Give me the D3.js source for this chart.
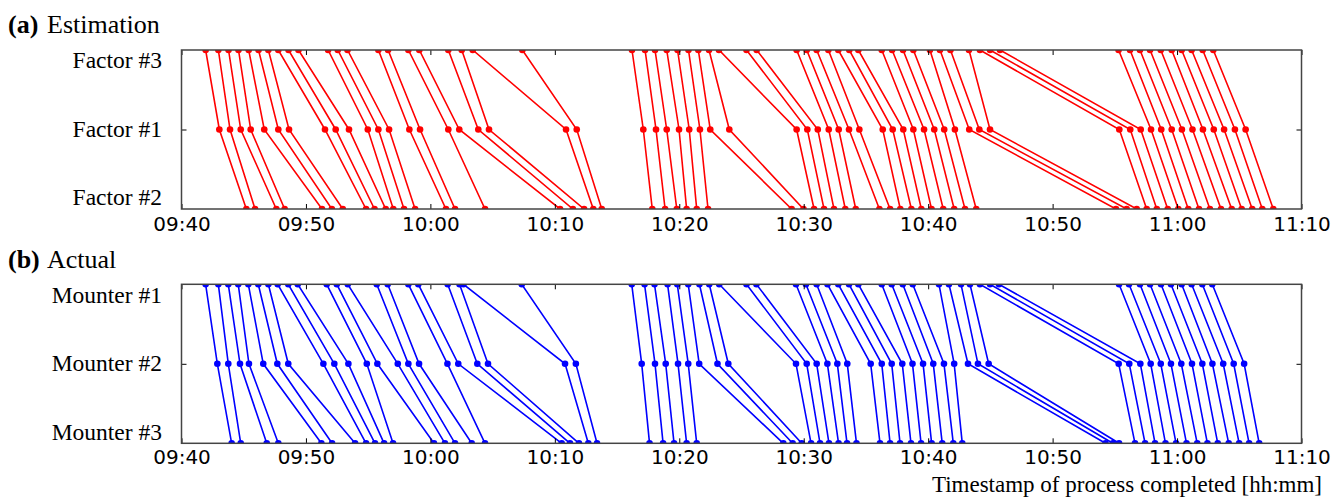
<!DOCTYPE html>
<html><head><meta charset="utf-8">
<script src="https://cdn.jsdelivr.net/npm/d3@7"></script>
<style>body{margin:0;background:#fff}svg{display:block}</style>
</head><body><svg id="chart" width="1333" height="497"></svg>
<script>
// ---- data (minutes after 09:40 at which each product finished each stage) ----
const startLabel = "09:40";
const endLabel = "11:10";
const tickLabels = ["09:40","09:50","10:00","10:10","10:20","10:30","10:40","10:50","11:00","11:10"];
const estLevels = ["Factor #3","Factor #1","Factor #2"];
const actLevels = ["Mounter #1","Mounter #2","Mounter #3"];

const estTop = [1.94,2.96,3.78,4.58,5.40,6.19,6.98,7.78,8.60,9.40,11.78,12.56,13.34,15.82,16.60,18.23,19.11,21.44,22.52,23.40,27.39,36.20,37.25,38.05,38.99,39.86,40.74,41.53,42.39,43.19,45.40,46.22,49.43,50.24,51.04,51.98,52.78,53.66,54.39,56.27,57.10,57.98,58.81,60.14,60.95,61.79,63.28,64.16,64.97,65.77,75.30,76.22,77.02,77.83,78.69,79.57,80.37,81.17,82.06,82.91];
const estMid = [3.04,3.90,4.76,5.56,6.65,7.78,8.64,11.53,12.39,13.46,14.97,15.82,16.68,18.31,19.17,21.44,22.32,23.85,24.71,30.90,31.76,37.11,38.13,38.99,39.98,40.80,41.66,42.49,44.02,49.43,50.29,51.13,52.01,52.81,53.64,54.47,56.35,57.15,58.00,58.81,59.67,60.49,61.29,62.15,63.30,64.11,64.97,75.36,76.24,77.08,77.91,78.73,79.57,80.39,81.24,82.08,82.95,83.78,84.65,85.51];
const estBot = [5.21,5.91,7.62,8.29,11.29,12.08,12.96,14.83,15.51,16.41,17.02,17.88,18.77,21.25,21.98,24.39,30.42,31.45,32.35,33.09,33.77,37.83,38.86,39.80,40.59,41.40,42.31,49.03,49.98,50.83,51.63,52.43,53.34,54.18,56.08,56.94,57.76,58.65,59.45,60.27,61.21,62.09,62.96,63.86,75.09,75.95,76.76,77.56,78.37,79.25,80.10,80.90,81.76,82.64,83.53,84.39,85.19,86.04,86.85,87.73];

const actTop = [1.94,2.96,3.76,4.56,5.37,6.17,6.98,7.73,8.58,9.34,11.67,12.48,13.36,15.69,16.57,18.23,19.03,21.39,22.34,22.66,27.34,36.18,37.21,38.01,39.06,39.84,40.72,41.62,42.41,43.21,45.40,46.20,49.38,50.18,51.04,51.91,52.78,53.64,54.39,56.27,57.07,57.96,58.76,60.87,61.67,62.64,63.36,64.16,64.97,65.69,75.34,76.14,77.02,77.83,78.71,79.51,80.37,81.17,82.03,82.83];
const actMid = [2.88,3.76,4.70,5.42,6.57,7.70,8.58,11.40,12.28,13.41,14.89,15.74,17.38,18.23,19.09,21.37,22.24,23.77,24.63,30.82,31.69,36.98,38.05,38.91,39.90,40.72,41.60,43.07,43.94,49.38,50.24,51.04,51.90,52.70,53.50,55.38,56.27,57.07,57.92,58.74,59.59,60.41,61.27,62.09,63.20,64.00,64.86,75.31,76.16,77.05,77.88,78.69,79.51,80.34,81.20,82.03,82.84,83.71,84.55,85.39];
const actBot = [4.03,4.76,6.85,7.78,11.24,12.10,13.95,14.83,15.55,16.28,17.00,20.29,21.17,21.98,23.32,24.39,30.55,31.22,31.94,32.69,33.39,37.61,38.70,39.58,40.59,41.40,48.36,49.11,49.84,50.59,51.31,52.03,52.80,53.48,54.24,56.13,56.94,57.74,58.62,59.43,60.28,61.13,62.02,62.74,74.25,74.84,75.34,76.62,77.43,78.23,79.07,79.92,80.76,81.62,82.44,83.27,84.15,84.99,85.79,86.60];

// ---- rendering ----
const svg = d3.select("#chart");
const parseHM = d3.timeParse("%H:%M");
const t0 = parseHM(startLabel);
const toDate = m => new Date(t0.getTime() + m * 60000);

const x = d3.scaleTime().domain([parseHM(startLabel), parseHM(endLabel)]).range([181.5, 1301.5]);
const serif = "'Liberation Serif','Times New Roman',serif";

function panel(id, top, bottom, levels, cols, color, tag, name, titleY, tickLabelY) {
  const y = d3.scalePoint().domain(levels).range([top, bottom]);
  const g = svg.append("g");
  const [x0, x1] = x.range();

  svg.append("defs").append("clipPath").attr("id", "clip" + id)
    .append("rect").attr("x", x0).attr("y", top).attr("width", x1 - x0).attr("height", bottom - top);

  const plot = g.append("g").attr("clip-path", `url(#clip${id})`);
  const rows = cols[0].map((_, i) => levels.map((lv, k) => ({t: toDate(cols[k][i]), lv})));
  const line = d3.line().x(d => x(d.t)).y(d => y(d.lv));
  plot.selectAll("path.prod").data(rows).join("path").attr("class", "prod")
    .attr("d", line).attr("fill", "none").attr("stroke", color).attr("stroke-width", 1.6);
  plot.selectAll("circle").data(rows.flat()).join("circle")
    .attr("cx", d => x(d.t)).attr("cy", d => y(d.lv)).attr("r", 3.3).attr("fill", color);

  // ticks
  const tv = tickLabels.map(parseHM);
  const bAxis = g.append("g").attr("transform", `translate(0,${bottom})`)
    .call(d3.axisBottom(x).tickValues(tv).tickFormat(d3.timeFormat("%H:%M")).tickSizeInner(-5).tickSizeOuter(0));
  bAxis.select(".domain").remove();
  bAxis.selectAll("text").attr("y", tickLabelY - bottom).attr("dy", null)
    .attr("font-family", "'DejaVu Sans',sans-serif").attr("font-size", 20).attr("fill", "#000");
  bAxis.selectAll("line").attr("stroke", "#000");
  const tAxis = g.append("g").attr("transform", `translate(0,${top})`)
    .call(d3.axisTop(x).tickValues(tv).tickFormat("").tickSizeInner(-5).tickSizeOuter(0));
  tAxis.select(".domain").remove();
  const mid = [levels[1]];
  const lAxis = g.append("g").attr("transform", `translate(${x0},0)`)
    .call(d3.axisLeft(y).tickValues(mid).tickFormat("").tickSizeInner(-5).tickSizeOuter(0));
  lAxis.select(".domain").remove();
  const rAxis = g.append("g").attr("transform", `translate(${x1},0)`)
    .call(d3.axisRight(y).tickValues(mid).tickFormat("").tickSizeInner(-5).tickSizeOuter(0));
  rAxis.select(".domain").remove();

  // frame
  g.append("rect").attr("x", x0).attr("y", top).attr("width", x1 - x0).attr("height", bottom - top)
    .attr("fill", "none").attr("stroke", "#444").attr("stroke-width", 1.5);

  // level labels
  const offs = [10.7, 0, -11.3];
  g.selectAll("text.lvl").data(levels).join("text").attr("class", "lvl")
    .attr("x", 162).attr("y", (d, i) => y(d) + offs[i] + 7.6)
    .attr("text-anchor", "end").attr("font-family", serif).attr("font-size", 23.5).attr("fill", "#000")
    .text(d => d);

  // title
  const tt = svg.append("text").attr("y", titleY).attr("font-family", serif).attr("font-size", 26).attr("fill", "#000");
  tt.append("tspan").attr("x", 8).attr("font-weight", "bold").text(tag);
  tt.append("tspan").attr("x", 47).text(name);
}

panel("a", 50, 209, estLevels, [estTop, estMid, estBot], "#ff0000", "(a)", "Estimation", 33, 230.5);
panel("b", 284.3, 443.3, actLevels, [actTop, actMid, actBot], "#0000ff", "(b)", "Actual", 267.5, 464.5);

svg.append("text").attr("x", 1322).attr("y", 491.5).attr("text-anchor", "end")
  .attr("font-family", serif).attr("font-size", 23).attr("fill", "#000")
  .text("Timestamp of process completed [hh:mm]");
</script>
</body></html>
